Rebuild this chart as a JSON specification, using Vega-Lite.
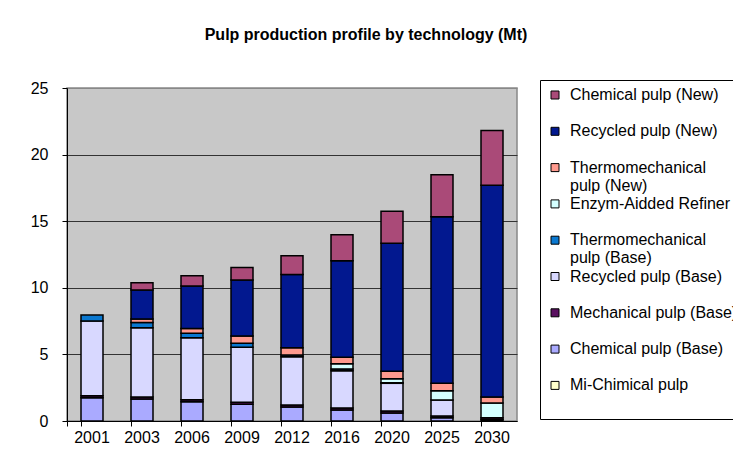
{
  "$schema": "https://vega.github.io/schema/vega-lite/v6.json",
  "width": 450,
  "height": 333,
  "autosize": "none",
  "padding": {"left": 67, "top": 88, "right": 216, "bottom": 51},
  "background": "white",
  "title": {
    "text": "Pulp production profile by technology (Mt)",
    "font": "Liberation Sans",
    "fontSize": 16,
    "fontWeight": "bold",
    "color": "black",
    "anchor": "middle",
    "dx": 74,
    "offset": 37
  },
  "config": {
    "view": {"fill": "#C8C8C8", "stroke": "#888888", "strokeWidth": 1.5},
    "font": "Liberation Sans"
  },
  "data": {
    "values": [
      {"year": "2001", "tech": "Chemical pulp (Base)", "value": 1.75, "k": 2},
      {"year": "2001", "tech": "Mechanical pulp (Base)", "value": 0.15, "k": 3},
      {"year": "2001", "tech": "Recycled pulp (Base)", "value": 5.6, "k": 4},
      {"year": "2001", "tech": "Thermomechanical pulp (Base)", "value": 0.45, "k": 5},

      {"year": "2003", "tech": "Chemical pulp (Base)", "value": 1.65, "k": 2},
      {"year": "2003", "tech": "Mechanical pulp (Base)", "value": 0.15, "k": 3},
      {"year": "2003", "tech": "Recycled pulp (Base)", "value": 5.2, "k": 4},
      {"year": "2003", "tech": "Thermomechanical pulp (Base)", "value": 0.4, "k": 5},
      {"year": "2003", "tech": "Thermomechanical pulp (New)", "value": 0.25, "k": 7},
      {"year": "2003", "tech": "Recycled pulp (New)", "value": 2.18, "k": 8},
      {"year": "2003", "tech": "Chemical pulp (New)", "value": 0.55, "k": 9},

      {"year": "2006", "tech": "Chemical pulp (Base)", "value": 1.45, "k": 2},
      {"year": "2006", "tech": "Mechanical pulp (Base)", "value": 0.15, "k": 3},
      {"year": "2006", "tech": "Recycled pulp (Base)", "value": 4.65, "k": 4},
      {"year": "2006", "tech": "Thermomechanical pulp (Base)", "value": 0.33, "k": 5},
      {"year": "2006", "tech": "Thermomechanical pulp (New)", "value": 0.37, "k": 7},
      {"year": "2006", "tech": "Recycled pulp (New)", "value": 3.18, "k": 8},
      {"year": "2006", "tech": "Chemical pulp (New)", "value": 0.77, "k": 9},

      {"year": "2009", "tech": "Chemical pulp (Base)", "value": 1.25, "k": 2},
      {"year": "2009", "tech": "Mechanical pulp (Base)", "value": 0.15, "k": 3},
      {"year": "2009", "tech": "Recycled pulp (Base)", "value": 4.13, "k": 4},
      {"year": "2009", "tech": "Thermomechanical pulp (Base)", "value": 0.3, "k": 5},
      {"year": "2009", "tech": "Thermomechanical pulp (New)", "value": 0.55, "k": 7},
      {"year": "2009", "tech": "Recycled pulp (New)", "value": 4.2, "k": 8},
      {"year": "2009", "tech": "Chemical pulp (New)", "value": 0.95, "k": 9},

      {"year": "2012", "tech": "Chemical pulp (Base)", "value": 1.05, "k": 2},
      {"year": "2012", "tech": "Mechanical pulp (Base)", "value": 0.15, "k": 3},
      {"year": "2012", "tech": "Recycled pulp (Base)", "value": 3.62, "k": 4},
      {"year": "2012", "tech": "Thermomechanical pulp (Base)", "value": 0.13, "k": 5},
      {"year": "2012", "tech": "Thermomechanical pulp (New)", "value": 0.55, "k": 7},
      {"year": "2012", "tech": "Recycled pulp (New)", "value": 5.5, "k": 8},
      {"year": "2012", "tech": "Chemical pulp (New)", "value": 1.4, "k": 9},

      {"year": "2016", "tech": "Chemical pulp (Base)", "value": 0.83, "k": 2},
      {"year": "2016", "tech": "Mechanical pulp (Base)", "value": 0.15, "k": 3},
      {"year": "2016", "tech": "Recycled pulp (Base)", "value": 2.8, "k": 4},
      {"year": "2016", "tech": "Thermomechanical pulp (Base)", "value": 0.13, "k": 5},
      {"year": "2016", "tech": "Enzym-Aidded Refiner", "value": 0.38, "k": 6},
      {"year": "2016", "tech": "Thermomechanical pulp (New)", "value": 0.5, "k": 7},
      {"year": "2016", "tech": "Recycled pulp (New)", "value": 7.25, "k": 8},
      {"year": "2016", "tech": "Chemical pulp (New)", "value": 1.95, "k": 9},

      {"year": "2020", "tech": "Chemical pulp (Base)", "value": 0.6, "k": 2},
      {"year": "2020", "tech": "Mechanical pulp (Base)", "value": 0.15, "k": 3},
      {"year": "2020", "tech": "Recycled pulp (Base)", "value": 2.08, "k": 4},
      {"year": "2020", "tech": "Thermomechanical pulp (Base)", "value": 0.05, "k": 5},
      {"year": "2020", "tech": "Enzym-Aidded Refiner", "value": 0.3, "k": 6},
      {"year": "2020", "tech": "Thermomechanical pulp (New)", "value": 0.56, "k": 7},
      {"year": "2020", "tech": "Recycled pulp (New)", "value": 9.6, "k": 8},
      {"year": "2020", "tech": "Chemical pulp (New)", "value": 2.4, "k": 9},

      {"year": "2025", "tech": "Chemical pulp (Base)", "value": 0.25, "k": 2},
      {"year": "2025", "tech": "Mechanical pulp (Base)", "value": 0.13, "k": 3},
      {"year": "2025", "tech": "Recycled pulp (Base)", "value": 1.2, "k": 4},
      {"year": "2025", "tech": "Enzym-Aidded Refiner", "value": 0.69, "k": 6},
      {"year": "2025", "tech": "Thermomechanical pulp (New)", "value": 0.56, "k": 7},
      {"year": "2025", "tech": "Recycled pulp (New)", "value": 12.5, "k": 8},
      {"year": "2025", "tech": "Chemical pulp (New)", "value": 3.15, "k": 9},

      {"year": "2030", "tech": "Chemical pulp (Base)", "value": 0.12, "k": 2},
      {"year": "2030", "tech": "Mechanical pulp (Base)", "value": 0.13, "k": 3},
      {"year": "2030", "tech": "Enzym-Aidded Refiner", "value": 1.1, "k": 6},
      {"year": "2030", "tech": "Thermomechanical pulp (New)", "value": 0.45, "k": 7},
      {"year": "2030", "tech": "Recycled pulp (New)", "value": 15.9, "k": 8},
      {"year": "2030", "tech": "Chemical pulp (New)", "value": 4.1, "k": 9}
    ]
  },
  "mark": {"type": "bar", "stroke": "black", "strokeWidth": 1.5},
  "encoding": {
    "x": {
      "field": "year",
      "type": "nominal",
      "title": null,
      "scale": {"paddingInner": 0.56, "paddingOuter": 0.28},
      "axis": {
        "labelAngle": 0,
        "labelFont": "Liberation Sans",
        "labelFontSize": 16,
        "labelColor": "black",
        "labelPadding": 3,
        "domainColor": "black",
        "domainWidth": 1,
        "tickColor": "black",
        "tickSize": 5,
        "bandPosition": 0,
        "tickExtra": true,
        "grid": false
      }
    },
    "y": {
      "field": "value",
      "type": "quantitative",
      "aggregate": "sum",
      "title": null,
      "scale": {"domain": [0, 25], "nice": false},
      "axis": {
        "values": [0, 5, 10, 15, 20, 25],
        "labelFont": "Liberation Sans",
        "labelFontSize": 16,
        "labelColor": "black",
        "labelPadding": 14,
        "domainColor": "black",
        "domainWidth": 1,
        "tickColor": "black",
        "tickSize": 5,
        "grid": true,
        "gridColor": {"condition": {"test": "datum.value == 25", "value": "#888888"}, "value": "#333333"},
        "gridWidth": 1
      }
    },
    "color": {
      "field": "tech",
      "type": "nominal",
      "scale": {
        "domain": [
          "Chemical pulp (New)",
          "Recycled pulp (New)",
          "Thermomechanical pulp (New)",
          "Enzym-Aidded Refiner",
          "Thermomechanical pulp (Base)",
          "Recycled pulp (Base)",
          "Mechanical pulp (Base)",
          "Chemical pulp (Base)",
          "Mi-Chimical pulp"
        ],
        "range": ["#AA4A78", "#02188F", "#FF9A8E", "#D4FFFF", "#0A78D0", "#D8D8FF", "#5A1060", "#AAAAFF", "#FFFFCC"]
      },
      "legend": {
        "title": null,
        "orient": "none",
        "legendX": 473,
        "legendY": -8,
        "strokeColor": "black",
        "fillColor": "white",
        "padding": 7,
        "symbolType": "square",
        "symbolSize": 64,
        "symbolStrokeColor": "black",
        "symbolStrokeWidth": 1,
        "labelFont": "Liberation Sans",
        "labelFontSize": 16,
        "labelColor": "black",
        "labelLimit": 400,
        "labelOffset": 7,
        "labelBaseline": "alphabetic",
        "rowPadding": 2.3,
        "labelExpr": "datum.label == 'Thermomechanical pulp (New)' ? ['Thermomechanical', 'pulp (New)'] : datum.label == 'Thermomechanical pulp (Base)' ? ['Thermomechanical', 'pulp (Base)'] : [datum.label, '']",
        "encode": {"labels": {"update": {"dy": {"value": 5}}}}
      }
    },
    "order": {"field": "k", "type": "quantitative"}
  }
}
